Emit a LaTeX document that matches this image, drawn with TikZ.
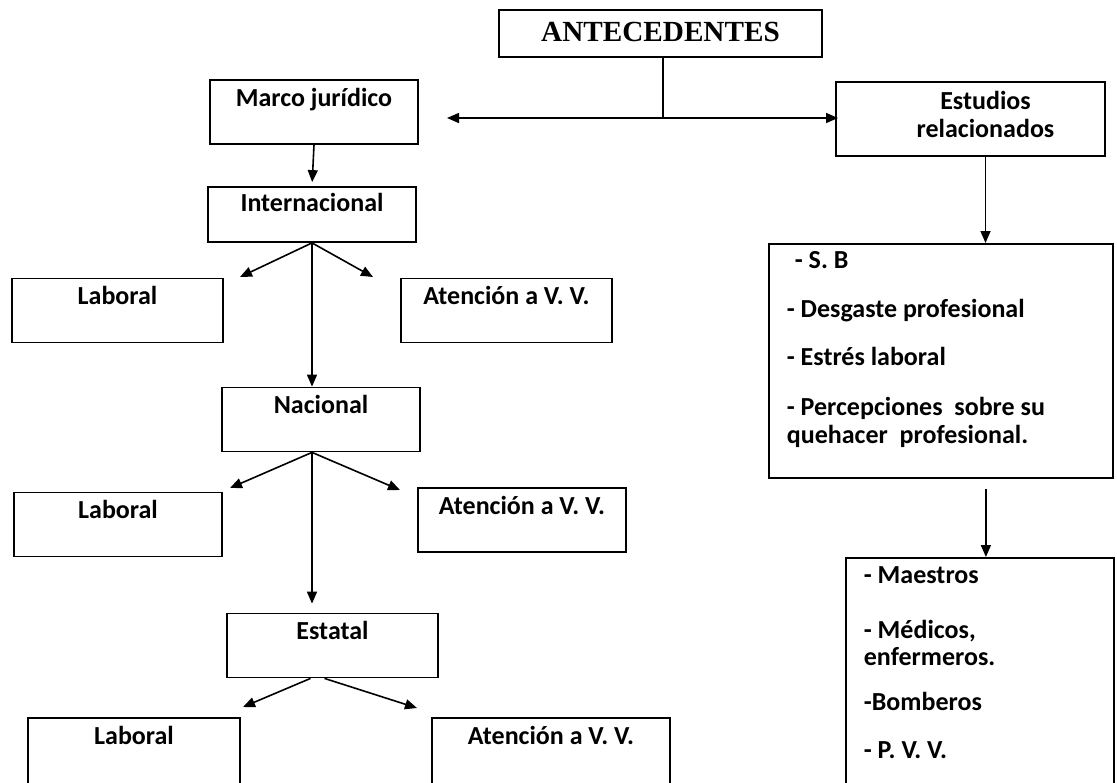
\documentclass[tikz,border=0pt]{standalone}
\usepackage{fontspec}
\setmainfont{Carlito}
\newfontfamily\titulo{Liberation Serif}
\usetikzlibrary{arrows.meta}
\frenchspacing

\tikzset{
  borde/.style={draw=black, line width=0.9pt, font=\bfseries\fontsize{13}{15}\selectfont},
  caja/.style={borde, inner sep=0pt, minimum width=104pt, text height=13pt, text depth=19pt},
  lista/.style={borde, anchor=north west, inner xsep=9pt, inner ysep=0pt, align=flush left},
}

\begin{document}
\begin{tikzpicture}[x=0.5pt, y=-0.5pt, line width=0.8pt, >={Triangle[length=6pt,width=5pt]}]
    \useasboundingbox (0,0) rectangle (1117,782);

    % raiz
    \node[caja, font=\titulo\bfseries\fontsize{14.6}{16}\selectfont, minimum width=161.5pt, text height=15.5pt, text depth=8pt] (ante) at (660.5,33.5) {ANTECEDENTES};
    \coordinate (split) at (663,118);
    \coordinate (izq) at (447,118);
    \coordinate (der) at (838,118);
    \draw (ante.south -| split) -- (split);
    \draw [->] (split) -- (izq);
    \draw [->] (split) -- (der);

    % marco juridico
    \node[caja] (marco) at (314,112) {Marco jurídico};
    \node[caja, text height=12pt, text depth=15.5pt] (inter) at (312,214.5) {Internacional};
    \node[caja, minimum width=105.5pt] (lab1) at (117.5,310.5) {Laboral};
    \node[caja, minimum width=105.5pt] (aten1) at (506.5,310.5) {Atención a V. V.};
    \node[caja, minimum width=99pt] (nac) at (321,419.5) {Nacional};
    \node[caja] (lab2) at (118,524.5) {Laboral};
    \node[caja] (aten2) at (522,520) {Atención a V. V.};
    \node[caja, minimum width=105.5pt] (est) at (332.5,645.5) {Estatal};
    \node[caja, minimum width=106pt, text depth=30pt] (lab3) at (134,761) {Laboral};
    \node[caja, minimum width=119pt, text depth=30pt] (aten3) at (551,761) {Atención a V. V.};

    \coordinate (i-l) at (240,277);
    \coordinate (i-r) at (373,277);
    \coordinate (n-l) at (230,488);
    \coordinate (n-r) at (400,490);
    \coordinate (e-l) at (243,707);
    \coordinate (e-r) at (417,708);

    \draw [->, shorten >=2pt] (marco.south) -- (inter.north);
    \draw [->] (inter.south) -- (i-l);
    \draw [->] (inter.south) -- (i-r);
    \draw [->] (inter.south) -- (inter.south |- nac.north);
    \draw [->] (inter.south |- nac.south) -- (n-l);
    \draw [->] (inter.south |- nac.south) -- (n-r);
    \draw [->, shorten >=4.5pt] (inter.south |- nac.south) -- (inter.south |- est.north);
    \draw [->] ([xshift=-11pt]est.south) -- (e-l);
    \draw [->] ([xshift=-4pt]est.south) -- (e-r);

    % estudios relacionados
    \node[borde, minimum width=134.5pt, minimum height=37pt,
          label={[align=center, font=\bfseries\fontsize{13}{14}\selectfont, xshift=7.5pt, yshift=2.5pt]center:Estudios\\relacionados}] (rel) at (970.5,119) {};
    \node[lista, text width=154pt, text height=12.5pt, text depth=104.5pt] (lista1) at (768,243) {%
        \hspace*{4pt}- S. B\\[9.5pt]
        - Desgaste profesional\\[9pt]
        - Estrés laboral\\[10pt]
        - Percepciones\ \ sobre su\\[-1pt]
        quehacer\ \ profesional.};
    \node[lista, text width=116pt, text height=13pt, text depth=108pt] (lista2) at (845,557) {%
        - Maestros\\[12.5pt]
        - Médicos,\\[-1.5pt]
        enfermeros.\\[7.5pt]
        -Bomberos\\[9pt]
        - P. V. V.};

    \draw [->] ([xshift=7.5pt]rel.south) -- ([xshift=7.5pt]rel.south |- lista1.north);
    \draw [->, shorten <=5pt] ([xshift=22.5pt]lista1.south) -- ([xshift=22.5pt]lista1.south |- lista2.north);
\end{tikzpicture}
\end{document}
